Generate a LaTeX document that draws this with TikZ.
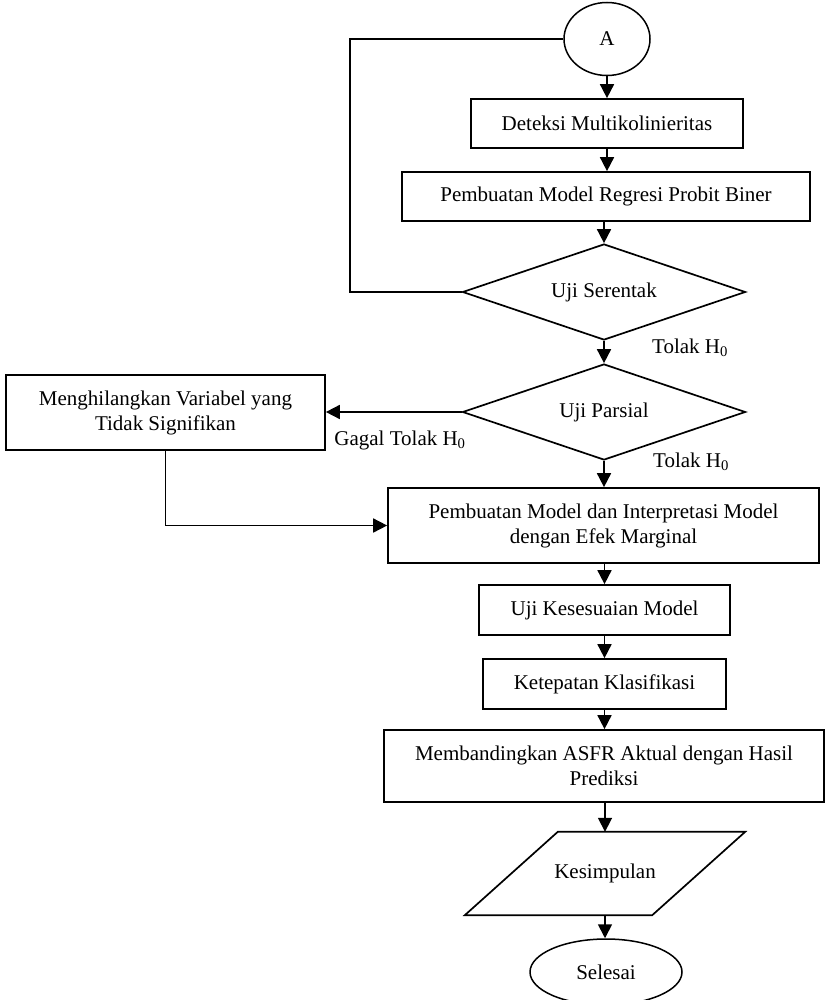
\documentclass[tikz,border=0pt]{standalone}
\usepackage{fontspec}
\setmainfont{Liberation Serif}
\usetikzlibrary{shapes.geometric,arrows.meta,calc}
\begin{document}
\begin{tikzpicture}[x=1pt,y=-1pt,
  every node/.style={font=\fontsize{21}{25}\selectfont},
  box/.style={draw,line width=1.7pt,rectangle,inner sep=0pt,align=center},
  dec/.style={draw,line width=1.7pt,diamond,inner sep=0pt,minimum width=283pt,minimum height=96pt,aspect=2.95},
  term/.style={draw,line width=1.5pt,ellipse,inner sep=0pt},
  arr/.style={line width=1.7pt,-{Triangle[length=14pt,width=14pt]}},
  lbl/.style={inner sep=0pt}]
\useasboundingbox (0,0) rectangle (824,1000);

\node[term,minimum width=86pt,minimum height=73pt] (A) at (607,39) {A};
\node[box,minimum width=272pt,minimum height=49pt] (b1) at (607,123.5) {Deteksi Multikolinieritas};
\node[box,minimum width=408pt,minimum height=49pt] (b2) at (606,196.5) {Pembuatan Model Regresi Probit Biner};
\node[dec] (s1) at (604,292) {Uji Serentak};
\node[dec] (s2) at (604,412) {Uji Parsial};
\node[box,minimum width=319pt,minimum height=75pt] (m) at (165.5,412.5) {Menghilangkan Variabel yang\\Tidak Signifikan};
\node[box,minimum width=431pt,minimum height=75pt] (b3) at (603.5,525.5) {Pembuatan Model dan Interpretasi Model\\dengan Efek Marginal};
\node[box,minimum width=251pt,minimum height=50pt] (b4) at (604.5,610) {Uji Kesesuaian Model};
\node[box,minimum width=243pt,minimum height=50pt] (b5) at (604.5,684) {Ketepatan Klasifikasi};
\node[box,minimum width=440pt,minimum height=72pt] (b6) at (604,766) {Membandingkan ASFR Aktual dengan Hasil\\Prediksi};
\node[inner sep=0pt,minimum width=280pt,minimum height=83pt] (k) at (605,873.5) {Kesimpulan};
\draw[line width=1.7pt] ($(k.north west)+(93,0)$) -- (k.north east) -- ($(k.south east)-(93,0)$) -- (k.south west) -- cycle;
\node[term,minimum width=152pt,minimum height=66pt] (end) at (606,972) {Selesai};

\node[lbl] (t1) at (690,348) {Tolak H\textsubscript{0}};
\node[lbl] (t2) at (691,462) {Tolak H\textsubscript{0}};
\node[lbl] (g1) at (400,440) {Gagal Tolak H\textsubscript{0}};

\coordinate (lp) at (350,0);
\draw[line width=1.3pt] (A.west) -- (lp |- A.west) -- (lp |- s1.west) -- (s1.west);

\draw[arr] (A.south) -- (b1.north);
\draw[arr] (b1.south) -- (b1.south |- b2.north);
\draw[arr] (b2.south -| s1.north) -- (s1.north);
\draw[arr] (s1.south) -- (s2.north);
\draw[arr] (s2.west) -- (m.east |- s2.west);
\draw[arr] (m.south) |- (b3.west);
\draw[arr] (s2.south) -- (s2.south |- b3.north);
\draw[arr] (b3.south -| b4.north) -- (b4.north);
\draw[arr] (b4.south) -- (b5.north);
\draw[arr] (b5.south) -- (b5.south |- b6.north);
\draw[arr] (b6.south -| k.north) -- (k.north);
\draw[arr] (k.south) -- (k.south |- end.north);
\end{tikzpicture}
\end{document}
